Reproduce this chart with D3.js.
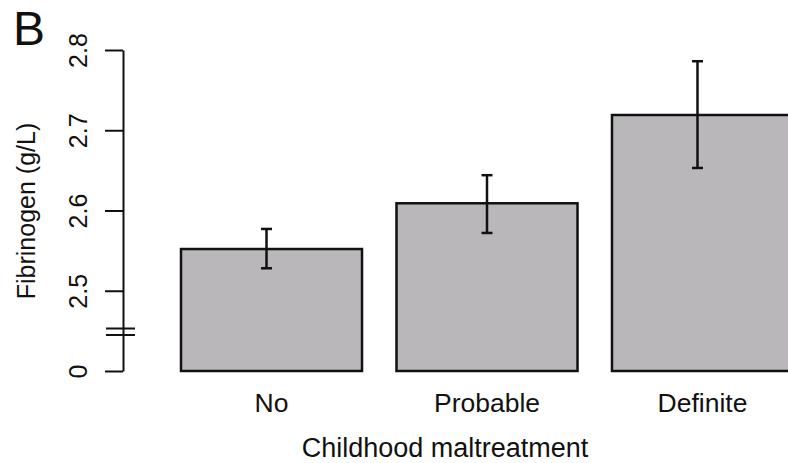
<!DOCTYPE html>
<html>
<head>
<meta charset="utf-8">
<script src="https://cdn.jsdelivr.net/npm/d3@7"></script>
<style>
  html, body { margin: 0; padding: 0; background: #fff; }
  svg { display: block; font-family: "Liberation Sans", Arial, Helvetica, sans-serif; }
</style>
</head>
<body>
<svg id="chart" width="788" height="463"></svg>
<script>
// ---- data ----
const categories = ["No", "Probable", "Definite"];
const means = [2.552, 2.609, 2.719];
const lower = [2.528, 2.572, 2.653];
const upper = [2.577, 2.644, 2.786];
const yTickValues = [0, 2.5, 2.6, 2.7, 2.8];
const yTickLabels = ["0", "2.5", "2.6", "2.7", "2.8"];
const panelLabel = "B";
const yTitle = "Fibrinogen (g/L)";
const xTitle = "Childhood maltreatment";

// ---- layout ----
const svg = d3.select("#chart");
const axisX = 123;

// broken (polylinear) y scale: 0 sits just below the break
const y = d3.scaleLinear()
  .domain([0, 2.5, 2.8])
  .range([371, 290.75, 50]);

const x = d3.scaleBand()
  .domain(categories)
  .range([181, 793])
  .paddingInner(0.16)
  .paddingOuter(0);

// bars
svg.append("g").selectAll("rect")
  .data(categories)
  .join("rect")
  .attr("x", d => x(d))
  .attr("width", x.bandwidth())
  .attr("y", (d, i) => y(means[i]))
  .attr("height", (d, i) => y(0) - y(means[i]))
  .attr("fill", "#bab7bb")
  .attr("stroke", "#111")
  .attr("stroke-width", 2.5);

// error bars
const eb = svg.append("g").attr("stroke", "#111").attr("stroke-width", 2.5);
categories.forEach((c, i) => {
  const cx = x(c) + x.bandwidth() / 2 - (i === 1 ? 0 : 5);
  eb.append("line").attr("x1", cx).attr("x2", cx).attr("y1", y(lower[i])).attr("y2", y(upper[i]));
  eb.append("line").attr("x1", cx - 5.5).attr("x2", cx + 5.5).attr("y1", y(lower[i])).attr("y2", y(lower[i]));
  eb.append("line").attr("x1", cx - 5.5).attr("x2", cx + 5.5).attr("y1", y(upper[i])).attr("y2", y(upper[i]));
});

// y axis
const yAxis = d3.axisLeft(y)
  .tickValues(yTickValues)
  .tickFormat((d, i) => yTickLabels[i])
  .tickSize(18)
  .tickSizeOuter(0);

const gy = svg.append("g")
  .attr("transform", `translate(${axisX},0)`)
  .call(yAxis);
gy.select(".domain").attr("stroke", "#111").attr("stroke-width", 2);
gy.selectAll(".tick line").attr("stroke", "#111").attr("stroke-width", 2);
gy.selectAll(".tick text")
  .attr("x", 0)
  .attr("y", -36)
  .attr("dy", 0)
  .attr("transform", "rotate(-90)")
  .style("text-anchor", "middle")
  .attr("fill", "#111")
  .style("font-size", "25px")
  .style("font-family", "'Liberation Sans', Arial, sans-serif");

// axis break marks
const brk = svg.append("g").attr("stroke", "#111").attr("stroke-width", 2);
[328.5, 335].forEach(yy => {
  brk.append("line").attr("x1", 106).attr("x2", 135).attr("y1", yy).attr("y2", yy);
});

// category labels
svg.append("g").selectAll("text")
  .data(categories)
  .join("text")
  .attr("x", d => x(d) + x.bandwidth() / 2)
  .attr("y", 412)
  .attr("text-anchor", "middle")
  .attr("fill", "#111")
  .style("font-size", "26.5px")
  .text(d => d);

// x title
svg.append("text")
  .attr("x", 445)
  .attr("y", 456.5)
  .attr("text-anchor", "middle")
  .attr("fill", "#111")
  .style("font-size", "27px")
  .text(xTitle);

// y title
svg.append("text")
  .attr("transform", "translate(35,211) rotate(-90)")
  .attr("text-anchor", "middle")
  .attr("fill", "#111")
  .style("font-size", "25px")
  .text(yTitle);

// panel label
svg.append("text")
  .attr("x", 13)
  .attr("y", 45)
  .attr("fill", "#111")
  .style("font-size", "48px")
  .text(panelLabel);
</script>
</body>
</html>
